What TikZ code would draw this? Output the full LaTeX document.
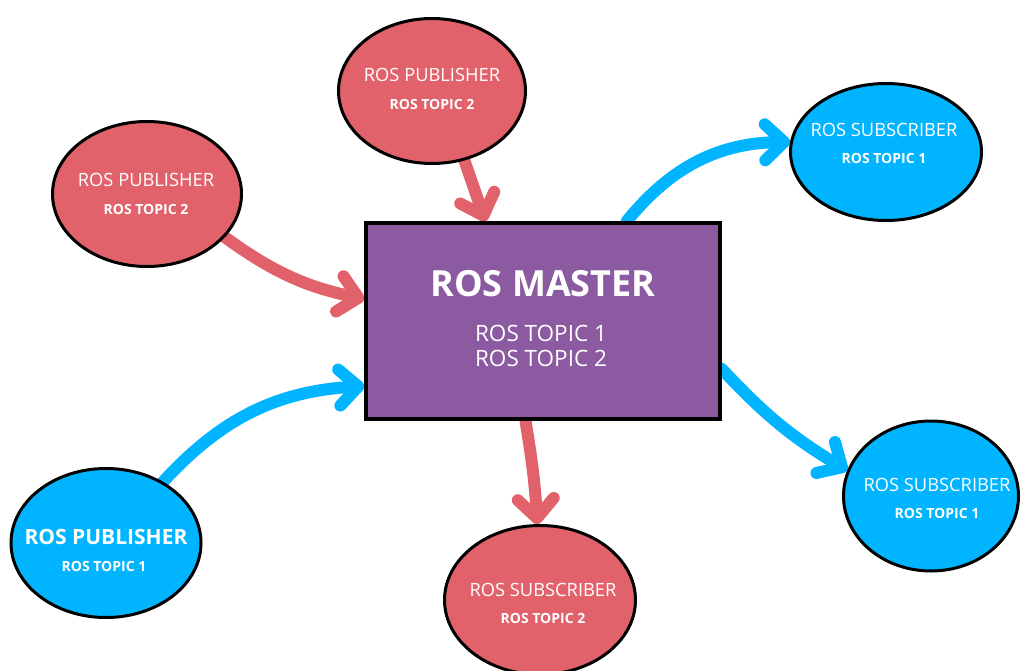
\documentclass[tikz,border=0pt]{standalone}
\usepackage{fontspec}
\setmainfont{Open Sans}
\usetikzlibrary{shapes.geometric, arrows.meta, calc, backgrounds}
\definecolor{rosred}{RGB}{226,98,107}
\definecolor{rosblue}{RGB}{0,180,255}
\definecolor{rospurple}{RGB}{139,90,160}
\begin{document}
\begin{tikzpicture}[x=1pt,y=-1pt,
  bubble/.style={ellipse, draw=black, line width=3pt, inner sep=0pt},
  redb/.style={bubble, fill=rosred},
  blueb/.style={bubble, fill=rosblue},
  ttl/.style={text=white, inner sep=0pt, font=\fontsize{18.3}{18.3}\selectfont},
  bigttl/.style={text=white, inner sep=0pt, font=\bfseries\fontsize{21}{21}\selectfont},
  sub/.style={text=white, inner sep=0pt, font=\bfseries\fontsize{14}{14}\selectfont},
  flow/.style={line width=12pt, line cap=round, line join=round, -{Straight Barb[length=19pt,width=36pt,round]}},
]
\clip (0,0) rectangle (1022,671);
% nodes
\node[redb, minimum width=187, minimum height=145] (tp) at (432,91) {};
\node[redb, minimum width=189, minimum height=145] (lp) at (147,194) {};
\node[blueb, minimum width=190, minimum height=149] (blp) at (106,543) {};
\node[blueb, minimum width=191, minimum height=137] (trs) at (886,152) {};
\node[blueb, minimum width=175, minimum height=150] (rs) at (931,496) {};
\node[redb, minimum width=191, minimum height=149] (bs) at (540,600) {};
\node[draw, line width=3.5pt, fill=rospurple, minimum width=354, minimum height=196, inner sep=0pt] (master) at (543,321) {};
% texts
\node[ttl] (tpT) at ($(tp)+(0,-16)$) {ROS PUBLISHER};
\node[sub] (tpS) at ($(tp)+(0,13)$) {ROS TOPIC 2};
\node[ttl] (lpT) at ($(lp)+(-1,-14)$) {ROS PUBLISHER};
\node[sub] (lpS) at ($(lp)+(-1,15)$) {ROS TOPIC 2};
\node[bigttl] (blpT) at ($(blp)+(0,-6)$) {ROS PUBLISHER};
\node[sub] (blpS) at ($(blp)+(-2,23)$) {ROS TOPIC 1};
\node[ttl] (trsT) at ($(trs)+(-2,-22)$) {ROS SUBSCRIBER};
\node[sub] (trsS) at ($(trs)+(-2,6)$) {ROS TOPIC 1};
\node[ttl] (rsT) at ($(rs)+(6,-11)$) {ROS SUBSCRIBER};
\node[sub] (rsS) at ($(rs)+(6,17)$) {ROS TOPIC 1};
\node[ttl] (bsT) at ($(bs)+(3,-10)$) {ROS SUBSCRIBER};
\node[sub] (bsS) at ($(bs)+(3,18)$) {ROS TOPIC 2};
\node[text=white, inner sep=0pt, font=\bfseries\fontsize{36}{36}\selectfont] (mT) at ($(master)+(0,-37)$) {ROS MASTER};
\node[text=white, inner sep=0pt, font=\fontsize{22.5}{22.5}\selectfont] (mA) at ($(master)+(-2,12)$) {ROS TOPIC 1};
\node[text=white, inner sep=0pt, font=\fontsize{22.5}{22.5}\selectfont] (mB) at ($(master)+(-2,37)$) {ROS TOPIC 2};
% connectors
\begin{scope}[on background layer]
\fill[white] (0,0) rectangle (1022,671);
\draw[flow, draw=rosred] (tp.-65) -- (master.120.5);
\draw[flow, draw=rosred] (lp.-29) to[bend right=12] (master.173.4);
\draw[flow, draw=rosblue] (blp.47) to[bend left=22] (master.200.3);
\draw[flow, draw=rosblue] (master.50.2) to[bend left=25] (trs.174);
\draw[flow, draw=rosblue] (master.-15.3) to[bend right=8] (rs.163);
\draw[flow, draw=rosred] (master.-100.2) to[bend left=3] (bs.92);
\end{scope}
\end{tikzpicture}
\end{document}
